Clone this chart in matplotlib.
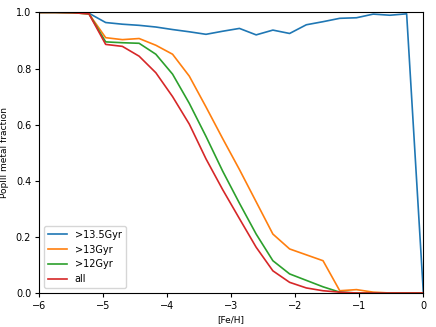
import numpy as np
import matplotlib
matplotlib.use("Agg")
import matplotlib.pyplot as plt

feh = np.linspace(-6, 0, 24)

frac_135 = [1.0, 1.0, 0.999, 0.997, 0.964, 0.958, 0.954, 0.948, 0.939, 0.931, 0.922, 0.933,
            0.943, 0.920, 0.937, 0.925, 0.956, 0.967, 0.979, 0.981, 0.994, 0.990, 0.995, 0.0]
frac_13 = [1.0, 1.0, 0.999, 0.995, 0.910, 0.903, 0.907, 0.883, 0.851, 0.773, 0.663, 0.550,
           0.440, 0.325, 0.210, 0.157, 0.136, 0.115, 0.008, 0.012, 0.003, 0.0, 0.0, 0.0]
frac_12 = [1.0, 1.0, 0.999, 0.995, 0.895, 0.892, 0.890, 0.851, 0.780, 0.676, 0.558, 0.434,
           0.320, 0.210, 0.115, 0.068, 0.045, 0.022, 0.003, 0.0, 0.0, 0.0, 0.0, 0.0]
frac_all = [1.0, 1.0, 0.999, 0.995, 0.886, 0.879, 0.844, 0.785, 0.700, 0.602, 0.478, 0.368,
            0.265, 0.163, 0.079, 0.038, 0.018, 0.008, 0.003, 0.0, 0.0, 0.0, 0.0, 0.0]

labels = [">13.5Gyr", ">13Gyr", ">12Gyr", "all"]

fig = plt.figure(figsize=(4.36, 3.27), dpi=100)
ax = fig.add_axes([0.089, 0.104, 0.882, 0.858])
for y, lab in zip([frac_135, frac_13, frac_12, frac_all], labels):
    ax.plot(feh, y, lw=1.2, label=lab)
ax.set_xlim(-6, 0)
ax.set_ylim(0, 1)
ax.set_xlabel("[Fe/H]", fontsize=6.5)
ax.set_ylabel("PopIII metal fraction", fontsize=6.5)
ax.yaxis.set_label_coords(-0.078, 0.5)
ax.xaxis.set_label_coords(0.5, -0.08)
ax.tick_params(labelsize=7, length=3, pad=2.5)
ax.legend(loc="lower left", fontsize=7)
fig.savefig("out.png", dpi=100)
